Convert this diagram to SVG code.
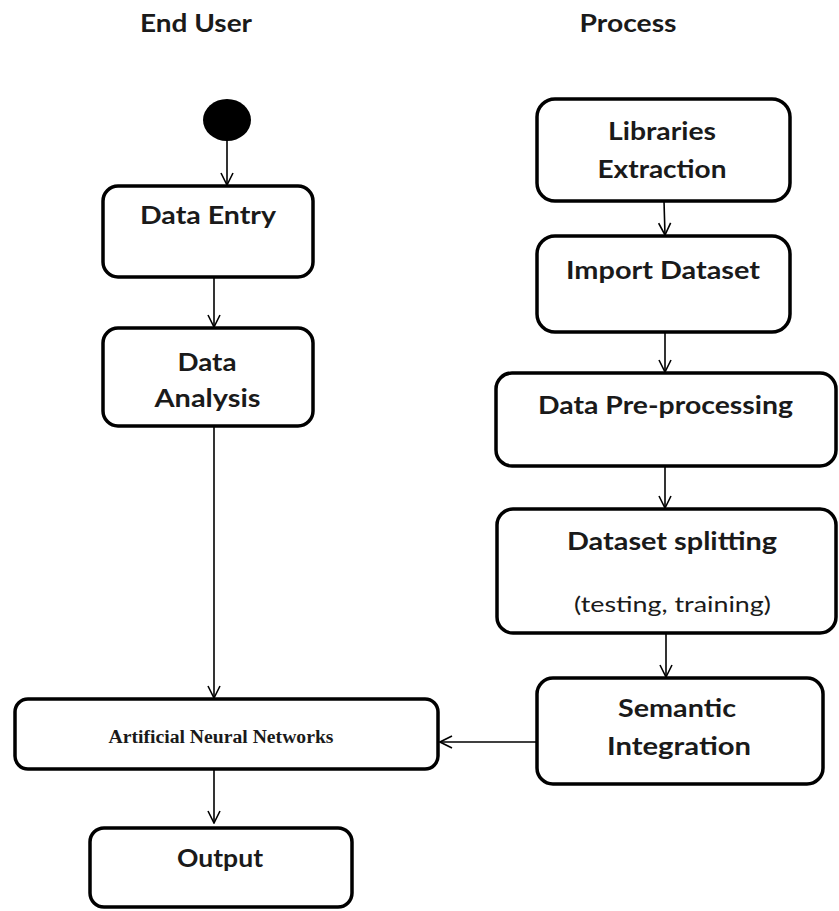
<svg xmlns="http://www.w3.org/2000/svg" width="839" height="911" viewBox="0 0 839 911">
<defs>
<style>
.box{fill:#fff;stroke:#000;stroke-width:3.5}
.lbl{font-family:Lato,"Open Sans","Liberation Sans",sans-serif;font-weight:bold;font-size:24px;fill:#1a1a1a;text-anchor:middle}
.sub{font-family:Lato,"Open Sans","Liberation Sans",sans-serif;font-size:21px;fill:#1a1a1a;text-anchor:middle}
.hd{font-family:Lato,"Open Sans","Liberation Sans",sans-serif;font-weight:bold;font-size:24px;fill:#1a1a1a;text-anchor:middle}
.ann{font-family:"Liberation Serif",serif;font-weight:bold;font-size:18px;fill:#1a1a1a;text-anchor:middle}
.conn{stroke:#000;stroke-width:1.6;fill:none}
</style>
<marker id="arr" viewBox="0 0 14 14" refX="13" refY="7" markerWidth="14" markerHeight="14" markerUnits="userSpaceOnUse" orient="auto">
<path d="M1,1 L13,7 L1,13" fill="none" stroke="#000" stroke-width="1.6"/>
</marker>
</defs>
<rect width="839" height="911" fill="#fff"/>
<g id="headings">
<text class="hd" x="196" y="32" textLength="112" lengthAdjust="spacingAndGlyphs">End User</text>
<text class="hd" x="628" y="32" textLength="97" lengthAdjust="spacingAndGlyphs">Process</text>
</g>
<g id="start"><ellipse cx="227" cy="120" rx="24" ry="21" fill="#000"/></g>
<g id="data-entry"><rect class="box" x="103" y="186" width="210" height="91" rx="15"/><text class="lbl" x="208" y="224" textLength="136" lengthAdjust="spacingAndGlyphs">Data Entry</text></g>
<g id="data-analysis"><rect class="box" x="103" y="328" width="210" height="98" rx="15"/><text class="lbl" x="207" y="371" textLength="59" lengthAdjust="spacingAndGlyphs">Data</text><text class="lbl" x="207.5" y="407" textLength="106" lengthAdjust="spacingAndGlyphs">Analysis</text></g>
<g id="ann"><rect class="box" x="15" y="699" width="423" height="70" rx="13"/><text class="ann" x="221" y="743" textLength="225" lengthAdjust="spacingAndGlyphs">Artificial Neural Networks</text></g>
<g id="output"><rect class="box" x="90" y="828" width="262" height="79" rx="14"/><text class="lbl" x="220" y="867" textLength="86" lengthAdjust="spacingAndGlyphs">Output</text></g>
<g id="libraries"><rect class="box" x="537" y="99" width="253" height="102" rx="18"/><text class="lbl" x="662" y="140" textLength="108" lengthAdjust="spacingAndGlyphs">Libraries</text><text class="lbl" x="662" y="178" textLength="129" lengthAdjust="spacingAndGlyphs">Extraction</text></g>
<g id="import"><rect class="box" x="537" y="236" width="253" height="96" rx="18"/><text class="lbl" x="663" y="279" textLength="194" lengthAdjust="spacingAndGlyphs">Import Dataset</text></g>
<g id="preproc"><rect class="box" x="496" y="373" width="340" height="93" rx="16"/><text class="lbl" x="665.5" y="414" textLength="255" lengthAdjust="spacingAndGlyphs">Data Pre-processing</text></g>
<g id="splitting"><rect class="box" x="497" y="509" width="339" height="124" rx="16"/><text class="lbl" x="672" y="550" textLength="210" lengthAdjust="spacingAndGlyphs">Dataset splitting</text><text class="sub" x="672.5" y="612" textLength="197" lengthAdjust="spacingAndGlyphs">(testing, training)</text></g>
<g id="semantic"><rect class="box" x="537" y="678" width="286" height="106" rx="16"/><text class="lbl" x="677" y="717" textLength="118" lengthAdjust="spacingAndGlyphs">Semantic</text><text class="lbl" x="679" y="755" textLength="144" lengthAdjust="spacingAndGlyphs">Integration</text></g>
<g id="connectors">
<line class="conn" x1="227" y1="141" x2="227" y2="185" marker-end="url(#arr)"/>
<line class="conn" x1="214" y1="277" x2="214" y2="327" marker-end="url(#arr)"/>
<line class="conn" x1="214" y1="426" x2="214" y2="698" marker-end="url(#arr)"/>
<line class="conn" x1="214" y1="769" x2="214" y2="823" marker-end="url(#arr)"/>
<line class="conn" x1="537" y1="742" x2="440" y2="742" marker-end="url(#arr)"/>
<line class="conn" x1="664" y1="201" x2="665" y2="235" marker-end="url(#arr)"/>
<line class="conn" x1="665" y1="332" x2="665" y2="372" marker-end="url(#arr)"/>
<line class="conn" x1="665" y1="466" x2="665" y2="508" marker-end="url(#arr)"/>
<line class="conn" x1="666" y1="633" x2="666" y2="677" marker-end="url(#arr)"/>
</g>
</svg>
